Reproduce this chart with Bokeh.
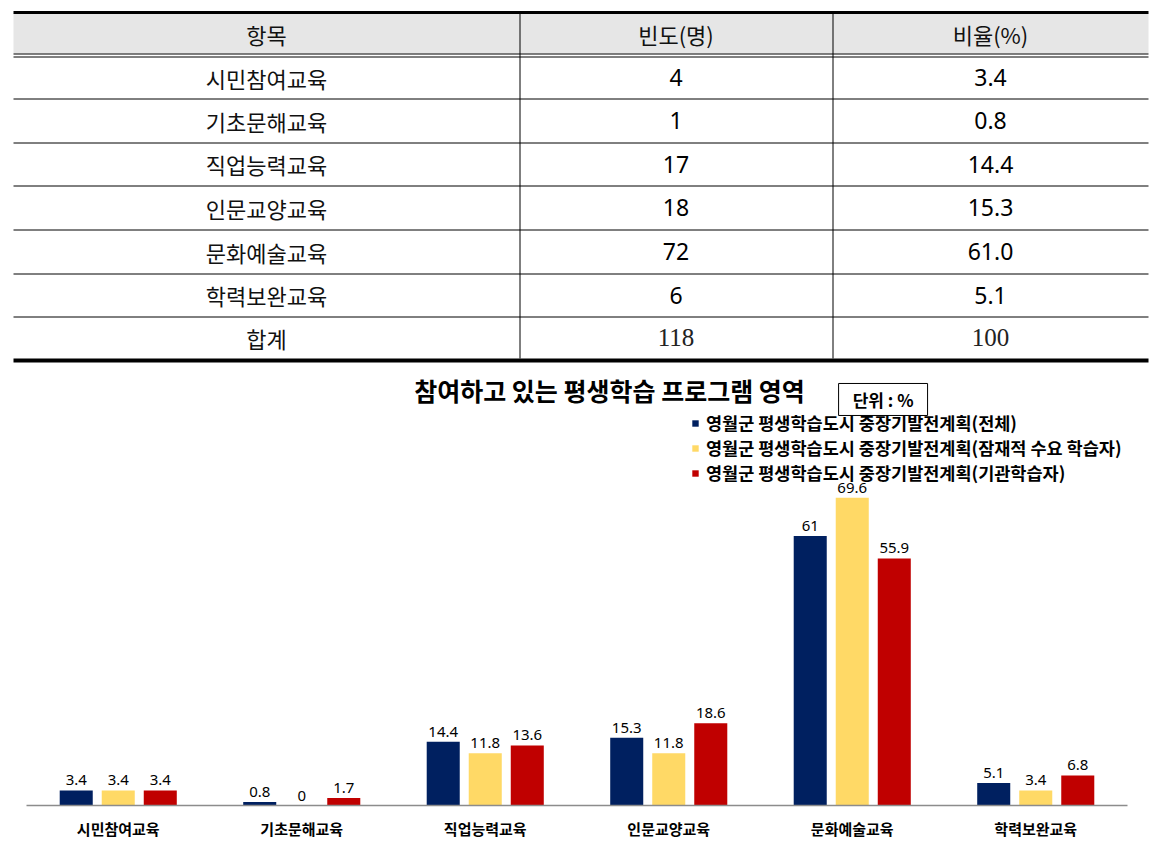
from bokeh.plotting import figure
from bokeh.models import ColumnDataSource, Range1d, FactorRange, Legend, LegendItem
from bokeh.transform import dodge
from bokeh.core.properties import value
from bokeh.embed import file_html
from bokeh.resources import INLINE

# ---------------- data ----------------
header = ["항목", "빈도(명)", "비율(%)"]
items = ["시민참여교육", "기초문해교육", "직업능력교육", "인문교양교육", "문화예술교육", "학력보완교육"]
freq = ["4", "1", "17", "18", "72", "6"]
ratio = ["3.4", "0.8", "14.4", "15.3", "61.0", "5.1"]
total_label = "합계"
total_freq = "118"
total_ratio = "100"

chart_title = "참여하고 있는 평생학습 프로그램 영역"
unit_text = "단위 : %"
series_names = [
    "영월군 평생학습도시 중장기발전계획(전체)",
    "영월군 평생학습도시 중장기발전계획(잠재적 수요 학습자)",
    "영월군 평생학습도시 중장기발전계획(기관학습자)",
]
s_total = [3.4, 0.8, 14.4, 15.3, 61, 5.1]
s_latent = [3.4, 0, 11.8, 11.8, 69.6, 3.4]
s_inst = [3.4, 1.7, 13.6, 18.6, 55.9, 6.8]
colors = ["#002060", "#FFD966", "#C00000"]

KR = value("Noto Sans CJK KR")
W = 1171
H1 = 366
H2 = 854 - H1

# ---------------- table ----------------
t = figure(width=W, height=H1, x_range=Range1d(0, W), y_range=Range1d(H1, 0),
           toolbar_location=None, output_backend="svg", min_border=0,
           x_axis_location=None, y_axis_location=None, outline_line_color=None)
t.grid.visible = False

L, R = 13, 1148
col_edges = [L, 519, 832, R]
row_bounds = [56, 98, 142, 185, 229, 273, 316, 358]
col_cx = [(col_edges[i] + col_edges[i + 1]) / 2 for i in range(3)]
row_cy = [(row_bounds[i] + row_bounds[i + 1]) / 2 for i in range(len(row_bounds) - 1)]

t.quad(left=[L], right=[R], top=[13], bottom=[53], fill_color="#e6e6e6", line_color=None)
t.segment(x0=[L], y0=[12], x1=[R], y1=[12], line_color="black", line_width=3)
t.segment(x0=[L, L], y0=[53.5, 56.5], x1=[R, R], y1=[53.5, 56.5], line_color="black", line_width=1)
inner = row_bounds[1:-1]
t.segment(x0=[L] * len(inner), y0=[y + 0.5 for y in inner], x1=[R] * len(inner),
          y1=[y + 0.5 for y in inner], line_color="black", line_width=1)
t.segment(x0=[L], y0=[360], x1=[R], y1=[360], line_color="black", line_width=4)
t.segment(x0=[519.5, 832.5], y0=[13, 13], x1=[519.5, 832.5], y1=[358, 358],
          line_color="black", line_width=1)

t.text(x=col_cx, y=[33] * 3, text=header, text_font=KR, text_font_size="22px",
       text_align="center", text_baseline="middle", text_color="#111111")
t.text(x=[col_cx[0]] * 7, y=row_cy, text=items + [total_label], text_font=KR,
       text_font_size="22px", text_align="center", text_baseline="middle", text_color="#111111")
t.text(x=[col_cx[1]] * 6, y=row_cy[:6], text=freq, text_font=value("Noto Sans"),
       text_font_size="23px", text_align="center", text_baseline="middle", text_color="black")
t.text(x=[col_cx[2]] * 6, y=row_cy[:6], text=ratio, text_font=value("Noto Sans"),
       text_font_size="23px", text_align="center", text_baseline="middle", text_color="black")
t.text(x=[col_cx[1], col_cx[2]], y=[row_cy[6]] * 2, text=[total_freq, total_ratio],
       text_font=value("Liberation Serif"), text_font_size="25px", text_align="center",
       text_baseline="middle", text_color="#222222")

# ---------------- chart ----------------
PX_PER_UNIT = 4.42
frame_h = 439
p = figure(width=W, height=H2, x_range=FactorRange(factors=items, range_padding=0),
           y_range=Range1d(0, frame_h / PX_PER_UNIT),
           toolbar_location=None, output_backend="svg",
           min_border_left=26, min_border_right=44, min_border_top=0, min_border_bottom=H2 - frame_h,
           y_axis_location=None, outline_line_color=None)
p.grid.visible = False

fmt = lambda v: f"{v:g}"
src = ColumnDataSource(dict(
    cat=items, total=s_total, latent=s_latent, inst=s_inst,
    total_lbl=[fmt(v) for v in s_total], latent_lbl=[fmt(v) for v in s_latent],
    inst_lbl=[fmt(v) for v in s_inst]))

offsets = [-0.229, 0.0, 0.229]
keys = ["total", "latent", "inst"]
renderers = []
for off, key, c in zip(offsets, keys, colors):
    r = p.vbar(x=dodge("cat", off, range=p.x_range), top=key, width=0.18, source=src,
               fill_color=c, line_color=None)
    renderers.append(r)
    p.text(x=dodge("cat", off, range=p.x_range), y=key, text=key + "_lbl", source=src,
           y_offset=-5, text_align="center", text_baseline="bottom",
           text_font=value("Noto Sans"), text_font_size="15px", text_color="black")

legend = Legend(items=[LegendItem(label=n, renderers=[r]) for n, r in zip(series_names, renderers)],
                location=(665, 320), orientation="vertical",
                glyph_width=8, glyph_height=8, label_height=20, label_standoff=7, spacing=-1,
                padding=0, margin=0, border_line_color=None, background_fill_alpha=0,
                label_text_font="Noto Sans CJK KR", label_text_font_size="17.5px",
                label_text_font_style="bold", label_text_color="black")
p.add_layout(legend)

# title and unit box (synthetic x coords, data y coords)
p.text(x=[3.177], y=[93.9], text=[chart_title], text_font=KR, text_font_size="25px",
       text_font_style="bold", text_align="center", text_baseline="middle", text_color="black")
p.rect(x=[4.668], y=[91.86], width=0.485, height=7.24, fill_color="white",
       line_color="black", line_width=1)
p.text(x=[4.668], y=[91.86], text=[unit_text], text_font=KR, text_font_size="17px",
       text_font_style="bold", text_align="center", text_baseline="middle", text_color="black")

p.xaxis.axis_line_color = "#8c8c8c"
p.xaxis.axis_line_width = 1.5
p.xaxis.major_tick_line_color = None
p.xaxis.minor_tick_line_color = None
p.xaxis.major_tick_out = 0
p.xaxis.major_label_standoff = 12
p.xaxis.major_label_text_font = "Noto Sans CJK KR"
p.xaxis.major_label_text_font_size = "15px"
p.xaxis.major_label_text_font_style = "bold"
p.xaxis.major_label_text_color = "black"

open("out.html", "w").write(file_html([t, p], INLINE))
